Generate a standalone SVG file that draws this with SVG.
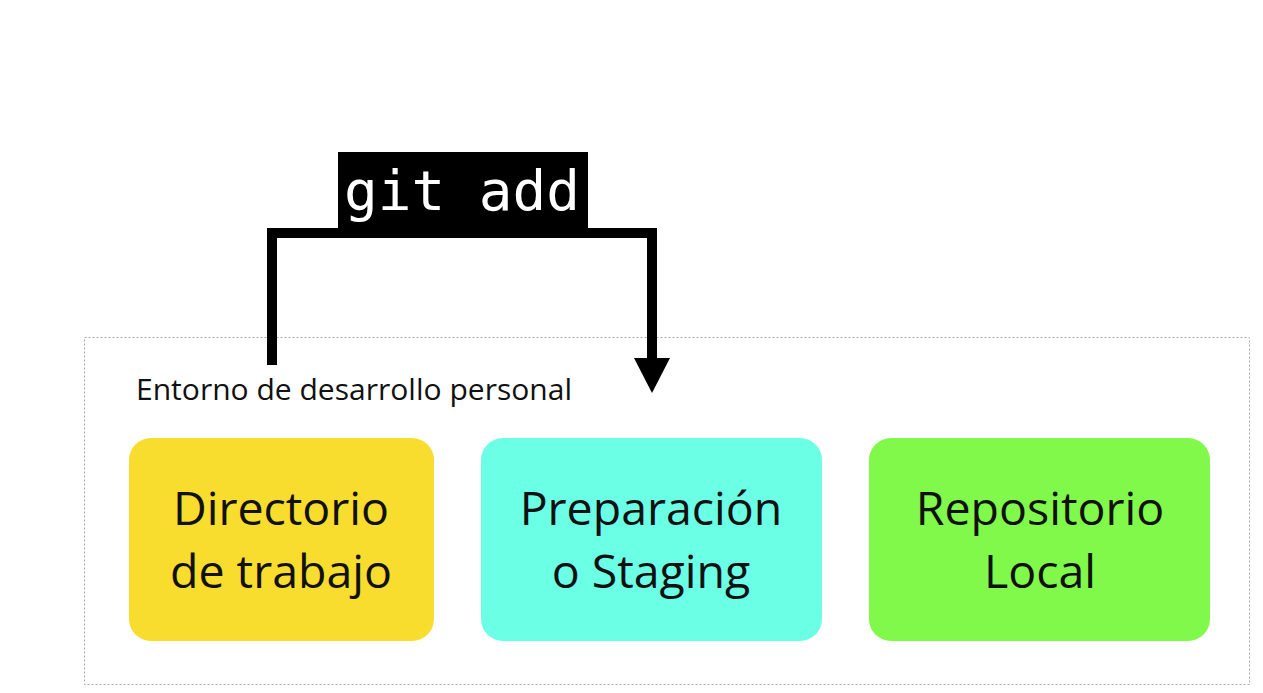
<svg xmlns="http://www.w3.org/2000/svg" width="1263" height="693" viewBox="0 0 1263 693">
<style>
.node text{font-family:"Open Sans","Noto Sans",sans-serif;font-size:46.5px;fill:#111;text-anchor:middle}
.box{stroke:none}
</style>
<rect width="1263" height="693" fill="#fff"/>
<g id="container">
<rect x="84.5" y="337.5" width="1165" height="347" fill="none" stroke="#aaa" stroke-width="1" stroke-dasharray="2,2"/>
<text x="136" y="400" font-family="Open Sans, sans-serif" font-size="28.5" fill="#111" textLength="436" lengthAdjust="spacingAndGlyphs">Entorno de desarrollo personal</text>
</g>
<g id="connectors">
<polyline points="272,365 272,233 652,233 652,358" fill="none" stroke="#000" stroke-width="10"/>
<polygon points="634,358 670,358 652,393" fill="#000"/>
</g>
<g id="label-git-add">
<rect x="338" y="152" width="250" height="76" fill="#000"/>
<text x="462" y="210" font-family="DejaVu Sans Mono, monospace" font-size="56" fill="#fff" text-anchor="middle">git add</text>
</g>
<g id="node-directorio" class="node">
<rect class="box" x="129" y="438" width="305" height="203" rx="22" fill="#F8DC2E"/>
<text x="281" y="525">Directorio</text>
<text x="281" y="588">de trabajo</text>
</g>
<g id="node-staging" class="node">
<rect class="box" x="481" y="438" width="341" height="203" rx="22" fill="#6BFFE6"/>
<text x="651" y="525">Preparación</text>
<text x="651" y="588">o Staging</text>
</g>
<g id="node-repo" class="node">
<rect class="box" x="869" y="438" width="341" height="203" rx="22" fill="#80F94A"/>
<text x="1040" y="525">Repositorio</text>
<text x="1040" y="588">Local</text>
</g>
</svg>
